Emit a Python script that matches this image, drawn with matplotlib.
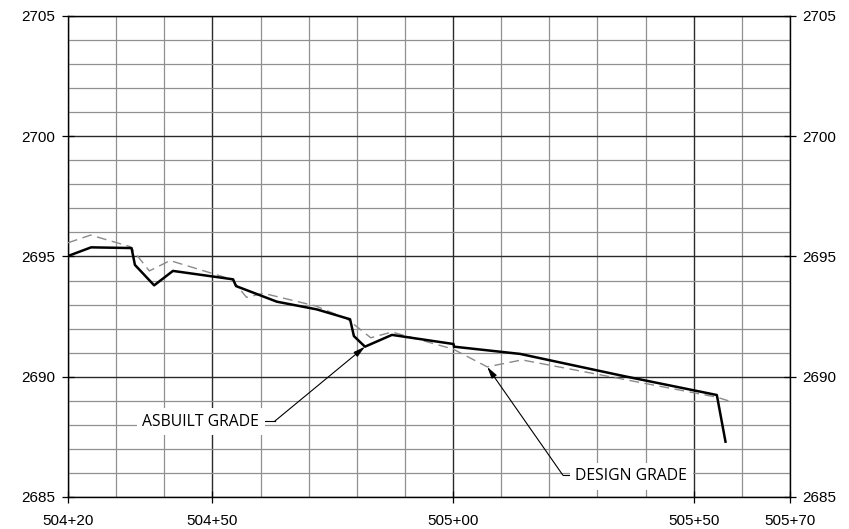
import matplotlib.pyplot as plt
from matplotlib.ticker import MultipleLocator, FixedLocator

# stations in feet (50420 = 504+20), elevations in feet
asbuilt_sta = [50420.0, 50424.8, 50433.2, 50433.9, 50437.9, 50441.8, 50454.3, 50454.9,
               50463.4, 50471.7, 50478.6, 50479.4, 50481.7, 50487.3, 50500.1, 50500.2,
               50513.9, 50535.4, 50554.8, 50556.6]
asbuilt_elev = [2695.02, 2695.38, 2695.35, 2694.65, 2693.80, 2694.40, 2694.05, 2693.77,
                2693.12, 2692.80, 2692.39, 2691.69, 2691.25, 2691.74, 2691.36, 2691.25,
                2690.95, 2690.03, 2689.24, 2687.30]

design_sta = [50420.0, 50424.7, 50432.9, 50436.9, 50441.2, 50454.0, 50457.1, 50460.6,
              50471.5, 50478.0, 50482.9, 50487.3, 50500.0, 50507.1, 50514.3, 50524.3,
              50554.8, 50557.2]
design_elev = [2695.57, 2695.89, 2695.41, 2694.40, 2694.83, 2694.05, 2693.30, 2693.47,
               2692.94, 2692.40, 2691.62, 2691.86, 2691.15, 2690.41, 2690.70, 2690.32,
               2689.15, 2689.00]

x_ticks = [50420, 50450, 50500, 50550, 50570]
y_ticks = [2685, 2690, 2695, 2700, 2705]

# callouts: label, arrow tip, knee of leader, end of stub, text position
callouts = [
    ("ASBUILT GRADE", (50481.7, 2691.25), (50463.0, 2688.16), (50460.9, 2688.16), (50447.6, 2688.12)),
    ("DESIGN GRADE", (50507.1, 2690.41), (50522.8, 2685.91), (50524.9, 2685.91), (50537.0, 2685.87)),
]


def station_label(s):
    s = int(round(s))
    return f"{s // 100}+{s % 100:02d}"


fig = plt.figure(figsize=(8.49, 5.29), dpi=100)
ax = fig.add_axes([0.0801, 0.0605, 0.8504, 0.9093])

ax.set_xlim(50420, 50570)
ax.set_ylim(2685, 2705)

# grid: light every 10 ft / 1 ft, dark at majors
ax.xaxis.set_minor_locator(MultipleLocator(10))
ax.yaxis.set_minor_locator(MultipleLocator(1))
ax.grid(which="minor", color="#909090", lw=0.9)
ax.xaxis.set_major_locator(FixedLocator(x_ticks))
ax.yaxis.set_major_locator(FixedLocator(y_ticks))
ax.grid(which="major", color="#2a2a2a", lw=1.0)
ax.set_axisbelow(True)

ax.set_xticklabels([station_label(s) for s in x_ticks])
ax.tick_params(which="minor", length=0)
ax.tick_params(which="major", direction="inout", length=8, width=0.9,
               labelsize=11, pad=5, right=True, labelright=True)
ax.tick_params(axis="x", pad=8)
for t in ax.xaxis.get_major_ticks() + ax.yaxis.get_major_ticks():
    t.label1.set_fontfamily("Liberation Sans")
    t.label2.set_fontfamily("Liberation Sans")
for sp in ax.spines.values():
    sp.set_color("black")
    sp.set_linewidth(1.0)

ax.plot(design_sta, design_elev, color="#8a8a8a", lw=1.0, dashes=(7, 4), zorder=3)
ax.plot(asbuilt_sta, asbuilt_elev, color="black", lw=1.8, zorder=4)

for label, tip, knee, stub, txt in callouts:
    ax.annotate("", xy=tip, xytext=knee,
                arrowprops=dict(arrowstyle="-|>,head_length=0.7,head_width=0.18",
                                color="black", lw=0.8, shrinkA=0, shrinkB=0),
                zorder=5)
    ax.plot([knee[0], stub[0]], [knee[1], stub[1]], color="black", lw=0.8, zorder=5)
    ax.text(txt[0], txt[1], label, ha="center", va="center", fontsize=11.3,
            family=["Open Sans", "DejaVu Sans"], zorder=6,
            bbox=dict(facecolor="white", edgecolor="none", pad=4))

fig.savefig("out.png", dpi=100)
plt.close(fig)
